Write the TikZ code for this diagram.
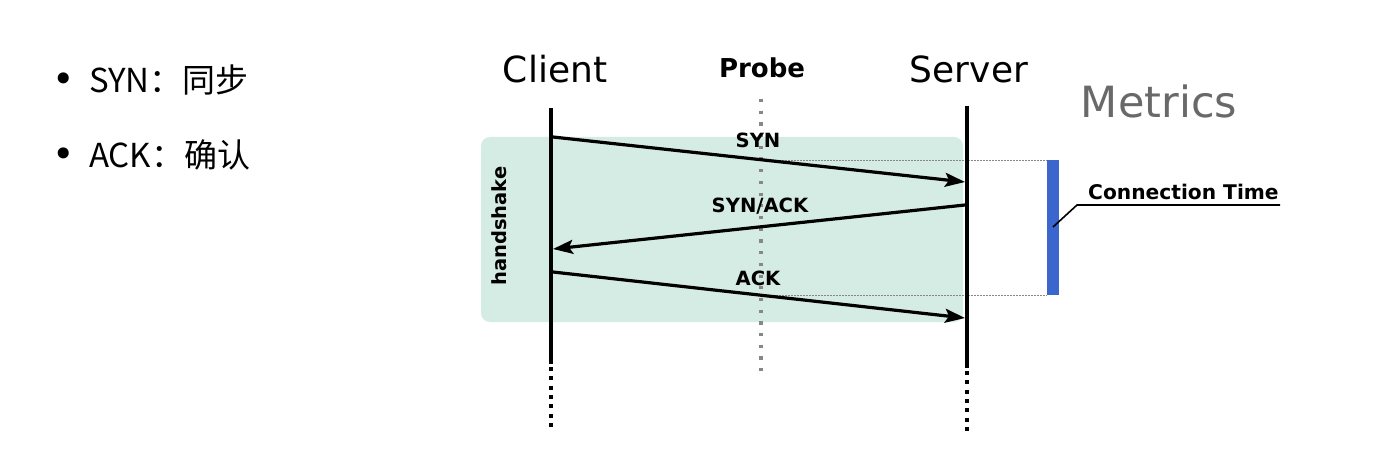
\documentclass[tikz,border=0pt]{standalone}
\usepackage{fontspec}
\usetikzlibrary{arrows.meta}
\newfontfamily\djfont{DejaVu Sans}
\newfontfamily\cjkfont{Noto Sans CJK SC}
\definecolor{mint}{RGB}{213,236,228}
\definecolor{barblue}{RGB}{58,102,206}
\definecolor{probegray}{RGB}{135,135,135}
\definecolor{metricgray}{RGB}{105,105,105}
\tikzset{
  lifeline/.style={line width=4pt},
  lifedots/.style={line width=4pt, dash pattern=on 4pt off 5.3pt},
  probedots/.style={line width=3.2pt, probegray, dash pattern=on 3.2pt off 8.5pt},
  guide/.style={line width=1pt, probegray, dash pattern=on 1.5pt off 1.5pt},
  msg/.style={line width=3.2pt, -{Stealth[length=20pt,width=14pt,inset=4pt]}},
  msglabel/.style={font=\djfont\bfseries\fontsize{19.6}{22}\selectfont, anchor=base, inner sep=0pt},
  headlabel/.style={font=\djfont\fontsize{36}{40}\selectfont, anchor=base, inner sep=0pt},
  bullettext/.style={font=\cjkfont\fontsize{33}{36}\selectfont, anchor=base west, inner sep=0pt},
  bulletdot/.style={font=\djfont\fontsize{38}{40}\selectfont, anchor=center, inner sep=0pt},
}
\begin{document}
\begin{tikzpicture}[x=1pt,y=-1pt]
\useasboundingbox (0,0) rectangle (1384,449);
\fill[white] (0,0) rectangle (1384,449);

% left bullet text
\node[bulletdot] (b1) at (64,83) {•};
\node[bullettext] (t1) at (89,93) {SYN：同步};
\node[bulletdot] (b2) at (64,158) {•};
\node[bullettext] (t2) at (89,168) {ACK：确认};

% handshake area
\fill[mint, rounded corners=9pt] (481,137) rectangle (963,322);
\node[font=\djfont\bfseries\fontsize{19.5}{22}\selectfont, rotate=90, inner sep=0pt] (hs) at (499,226) {handshake};

% headers
\node[headlabel] (client) at (555,83) {Client};
\node[headlabel] (server) at (969,83) {Server};
\node[font=\djfont\bfseries\fontsize{26}{30}\selectfont, anchor=base, inner sep=0pt] (probe) at (762,78) {Probe};
\node[font=\djfont\fontsize{43}{46}\selectfont, anchor=base, inner sep=0pt, text=metricgray] (metrics) at (1159,118) {Metrics};

% coordinates
\coordinate (cTop) at (551,108);
\coordinate (cEnd) at (551,364);
\coordinate (cDotS) at (551,367);
\coordinate (cDotE) at (551,431);
\coordinate (sTop) at (967,106);
\coordinate (sEnd) at (967,368);
\coordinate (sDotS) at (967,371);
\coordinate (sDotE) at (967,434);
\coordinate (pTop) at (761,99);
\coordinate (pEnd) at (761,373);

% probe line
\draw[probedots] (pTop) -- (pEnd);

% guide lines
\coordinate (g1a) at (761,161);
\coordinate (g1b) at (1047,161);
\coordinate (g2a) at (761,295);
\coordinate (g2b) at (1047,295);
\draw[guide] (g1a) -- (g1b);
\draw[guide] (g2a) -- (g2b);

% lifelines
\draw[lifeline] (cTop) -- (cEnd);
\draw[lifedots] (cDotS) -- (cDotE);
\draw[lifeline] (sTop) -- (sEnd);
\draw[lifedots] (sDotS) -- (sDotE);

% messages
\coordinate (m1a) at (553,137);
\coordinate (m1b) at (965,182);
\coordinate (m2a) at (965,205);
\coordinate (m2b) at (553,249);
\coordinate (m3a) at (553,272);
\coordinate (m3b) at (965,318);
\draw[msg] (m1a) -- (m1b);
\draw[msg] (m2a) -- (m2b);
\draw[msg] (m3a) -- (m3b);
\node[msglabel] (l1) at (758,148) {SYN};
\node[msglabel] (l2) at (760,213) {SYN/ACK};
\node[msglabel] (l3) at (758,285) {ACK};

% metrics bar
\fill[barblue] (1047,160) rectangle (1059,295);
\coordinate (barpt) at (1053,227);
\coordinate (elbow) at (1077,205);
\coordinate (lineend) at (1280,205);
\draw[line width=1.6pt] (barpt) -- (elbow) -- (lineend);
\node[font=\djfont\bfseries\fontsize{20.2}{22}\selectfont, anchor=base west, inner sep=0pt] (ct) at (1088,200) {Connection Time};
\end{tikzpicture}
\end{document}
